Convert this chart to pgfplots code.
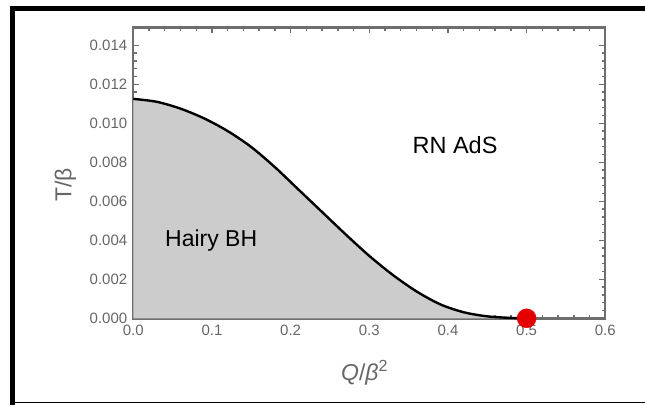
\documentclass[border=0pt]{standalone}
\usepackage{pgfplots}
\pgfplotsset{compat=1.18}
\usepackage{pgfplotstable}
\usepackage{fontspec}
\setmainfont{Liberation Sans}

\definecolor{framegray}{HTML}{6E6E6E}
\definecolor{labgray}{HTML}{666666}
\definecolor{hairfill}{HTML}{CCCCCC}
\definecolor{dotred}{HTML}{E40000}

% phase boundary
\pgfplotstableread{
q     T
0.00  0.01125
0.03  0.01110
0.06  0.01075
0.09  0.01025
0.12  0.00960
0.15  0.00878
0.18  0.00775
0.21  0.00660
0.24  0.00545
0.27  0.00430
0.30  0.00320
0.33  0.00222
0.36  0.00138
0.39  0.00072
0.42  0.00031
0.45  0.00010
0.48  0.00002
0.50  0.00000
}\boundary

\begin{document}
\begin{tikzpicture}
\begin{axis}[
  scale only axis, width=472pt, height=291pt,
  xmin=0, xmax=0.6, ymin=0, ymax=0.01492,
  xtick={0,0.1,0.2,0.3,0.4,0.5,0.6},
  ytick={0,0.002,0.004,0.006,0.008,0.010,0.012,0.014},
  minor tick num=4,
  tick align=inside,
  major tick length=6pt, minor tick length=3.5pt,
  every tick/.style={framegray, line width=1.4pt},
  axis line style={framegray, line width=2.4pt},
  scaled x ticks=false, scaled y ticks=false,
  /pgf/number format/assume math mode=true,
  ticklabel style={font=\fontsize{15}{17}\selectfont, text=labgray},
  x tick label style={yshift=-3pt, /pgf/number format/fixed, /pgf/number format/fixed zerofill, /pgf/number format/precision=1},
  y tick label style={xshift=-2.5pt, /pgf/number format/fixed, /pgf/number format/fixed zerofill, /pgf/number format/precision=3},
  xlabel={\textit{Q}/\textit{β}\textsuperscript{2}},
  ylabel={T/β},
  label style={font=\fontsize{23}{26}\selectfont, text=labgray},
  xlabel style={at={(axis description cs:0.49,0)}, anchor=center, yshift=-54pt},
  ylabel style={at={(axis description cs:-0.144,0.458)}, anchor=center},
  clip=false,
]
\addplot[draw=none, fill=hairfill, smooth] table[x=q, y=T] {\boundary} \closedcycle;
\addplot[black, line width=2.4pt, smooth] table[x=q, y=T] {\boundary};
\addplot[only marks, mark=*, mark size=9.5pt, color=dotred] coordinates {(0.5,0)};
\node[font=\fontsize{23.5}{26}\selectfont] at (axis cs:0.409,0.00887) {RN AdS};
\node[font=\fontsize{23}{26}\selectfont] at (axis cs:0.099,0.0040) {Hairy BH};
\end{axis}
\pgfresetboundingbox
\path[use as bounding box] (-133.3pt,-86.7pt) rectangle (511.7pt,318.3pt);
\draw[black, line width=5pt] (-120.3pt,-86.7pt) -- (-120.3pt,312.6pt);
\draw[black, line width=5pt] (-122.8pt,310.1pt) -- (511.7pt,310.1pt);
\draw[black, line width=1.6pt] (-120.3pt,-84.2pt) -- (511.7pt,-84.2pt);
\end{tikzpicture}
\end{document}
